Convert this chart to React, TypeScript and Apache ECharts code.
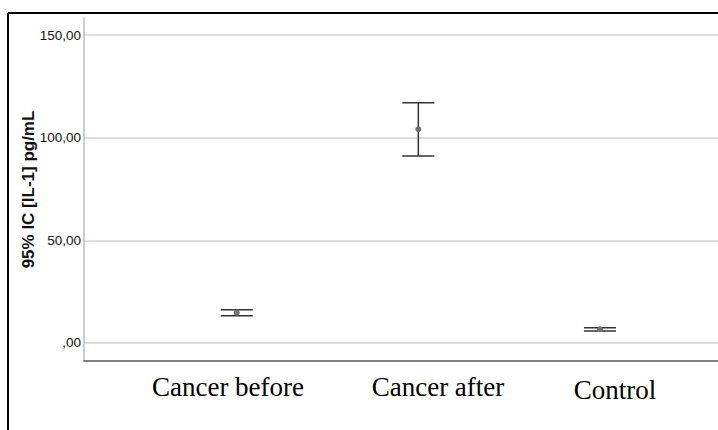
import React, { useEffect, useRef } from "react";
import * as echarts from "echarts";

const categories = ["Cancer before", "Cancer after", "Control"];
const means = [14.8, 104.1, 6.7];
const lowerCI = [13.3, 91.1, 5.9];
const upperCI = [16.2, 117.0, 7.4];
const yTicks = [0, 50, 100, 150];

const labelPos = [
  { x: 228, y: 387 },
  { x: 438, y: 387 },
  { x: 615, y: 390 },
];

function fmt(v: number) {
  if (v === 0) return ",00";
  return v.toFixed(2).replace(".", ",");
}

export default function App() {
  const ref = useRef<HTMLDivElement>(null);
  useEffect(() => {
    if (!ref.current) return;
    const chart = echarts.init(ref.current, null, { renderer: "svg" });
    const data = categories.map((c, i) => [i, lowerCI[i], upperCI[i], means[i]]);
    chart.setOption({
      animation: false,
      backgroundColor: "#ffffff",
      grid: { left: 84, right: 0, top: 18, bottom: 69 },
      xAxis: {
        type: "value",
        min: -0.841,
        max: 2.65,
        axisLine: { show: true, onZero: false, lineStyle: { color: "#555555", width: 1.5 } },
        axisTick: { show: false },
        axisLabel: { show: false },
        splitLine: { show: false },
      },
      yAxis: {
        type: "value",
        min: -8.77,
        max: 158.3,
        name: "95% IC [IL-1] pg/mL",
        nameLocation: "middle",
        nameRotate: 90,
        nameGap: 47,
        nameMoveOverlap: false,
        nameTextStyle: {
          fontFamily: "Arial, Liberation Sans, sans-serif",
          fontWeight: "bold",
          fontSize: 17,
          color: "#111111",
        },
        axisLine: { show: true, onZero: false, lineStyle: { color: "#bbbbbb", width: 1.5 } },
        axisTick: { show: false, customValues: yTicks },
        axisLabel: {
          customValues: yTicks,
          formatter: (v: number) => fmt(v),
          fontFamily: "Arial, Liberation Sans, sans-serif",
          fontSize: 13.5,
          color: "#111111",
          margin: 3,
        },
        splitLine: { show: true, lineStyle: { color: "#d2d2d2", width: 1.5 } },
      },
      graphic: [
        { type: "line", shape: { x1: 8, y1: 13, x2: 718, y2: 13 }, style: { stroke: "#000", lineWidth: 2 } },
        { type: "line", shape: { x1: 8, y1: 13, x2: 8, y2: 430 }, style: { stroke: "#000", lineWidth: 2 } },
        ...categories.map((c, i) => ({
          type: "text",
          x: labelPos[i].x,
          y: labelPos[i].y,
          style: {
            text: c,
            fontFamily: "Liberation Serif, Times New Roman, serif",
            fontSize: 27,
            fill: "#000",
            textAlign: "center",
            textVerticalAlign: "middle",
          },
        })),
      ],
      series: [
        {
          type: "custom",
          data,
          encode: { x: 0, y: [1, 2, 3] },
          renderItem: (params: any, api: any) => {
            const xv = api.value(0);
            const lo = api.coord([xv, api.value(1)]);
            const hi = api.coord([xv, api.value(2)]);
            const m = api.coord([xv, api.value(3)]);
            const hw = 16;
            const stroke = { stroke: "#333333", lineWidth: 1.5 };
            return {
              type: "group",
              children: [
                { type: "line", shape: { x1: lo[0], y1: lo[1], x2: hi[0], y2: hi[1] }, style: stroke },
                { type: "line", shape: { x1: hi[0] - hw, y1: hi[1], x2: hi[0] + hw, y2: hi[1] }, style: stroke },
                { type: "line", shape: { x1: lo[0] - hw, y1: lo[1], x2: lo[0] + hw, y2: lo[1] }, style: stroke },
                { type: "circle", shape: { cx: m[0], cy: m[1], r: 3 }, style: { fill: "#707070" } },
              ],
            };
          },
        },
      ],
    });
    return () => chart.dispose();
  }, []);
  return (
    <div
      ref={ref}
      style={{ position: "absolute", left: 0, top: 0, width: 718, height: 430 }}
    />
  );
}
